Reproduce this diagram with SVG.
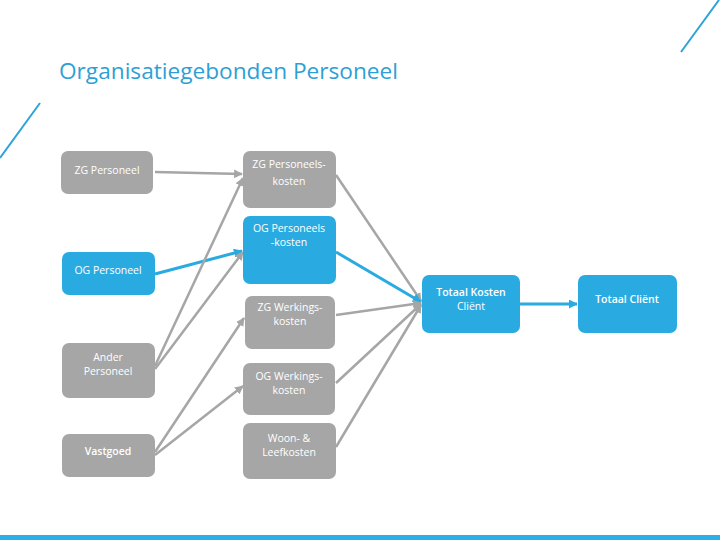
<svg xmlns="http://www.w3.org/2000/svg" width="720" height="540" viewBox="0 0 720 540">
<defs>
<style>
.g{fill:#a6a6a6}
.b{fill:#29abe2}
.t{font-family:"Open Sans","Liberation Sans",sans-serif;font-size:10.5px;fill:#ffffff;text-anchor:middle}
.tb{font-family:"Open Sans","Liberation Sans",sans-serif;font-size:10.5px;font-weight:600;fill:#ffffff;text-anchor:middle}
.lg{stroke:#a6a6a6;stroke-width:2.5;fill:none}
.lb{stroke:#29abe2;stroke-width:3;fill:none}
.deco{stroke:#2ea3d9;stroke-width:2;fill:none}
</style>
<marker id="ag" viewBox="0 0 10 10" refX="9" refY="5" markerWidth="3.5" markerHeight="3.5" orient="auto" markerUnits="strokeWidth"><path d="M0,0 L10,5 L0,10 z" fill="#a6a6a6"/></marker>
<marker id="ab" viewBox="0 0 10 10" refX="9" refY="5" markerWidth="3" markerHeight="3" orient="auto" markerUnits="strokeWidth"><path d="M0,0 L10,5 L0,10 z" fill="#29abe2"/></marker>
</defs>
<rect width="720" height="540" fill="#ffffff"/>
<line class="deco" x1="40" y1="103" x2="0" y2="158"/>
<line class="deco" x1="681" y1="52" x2="719" y2="0"/>
<rect x="0" y="535" width="720" height="5" fill="#2eaee8"/>
<text x="59" y="79" font-family="Open Sans, Liberation Sans, sans-serif" font-size="21.5" fill="#2e9fd6" textLength="339" lengthAdjust="spacingAndGlyphs">Organisatiegebonden Personeel</text>

<g id="connectors">
<path class="lg" d="M155,172 L242,174" marker-end="url(#ag)"/>
<path class="lb" d="M155,274 L242,251" marker-end="url(#ab)"/>
<path class="lg" d="M155,366 L243,178" marker-end="url(#ag)"/>
<path class="lg" d="M155,369 L243,252" marker-end="url(#ag)"/>
<path class="lg" d="M155,452 L244,318" marker-end="url(#ag)"/>
<path class="lg" d="M155,455 L243,386" marker-end="url(#ag)"/>
<path class="lg" d="M336,175 L421,301" marker-end="url(#ag)"/>
<path class="lb" d="M336,252 L421,302" marker-end="url(#ab)"/>
<path class="lg" d="M336,315 L421,303" marker-end="url(#ag)"/>
<path class="lg" d="M336,383 L421,304" marker-end="url(#ag)"/>
<path class="lg" d="M336,447 L421,305" marker-end="url(#ag)"/>
<path class="lb" d="M520,304 L577,304" marker-end="url(#ab)"/>
</g>

<g id="zg-personeel">
<rect class="g" x="61" y="151" width="92" height="43" rx="7"/>
<text class="t" x="107" y="174">ZG Personeel</text>
</g>
<g id="og-personeel">
<rect class="b" x="62" y="252" width="93" height="43" rx="7"/>
<text class="t" x="108" y="274">OG Personeel</text>
</g>
<g id="ander-personeel">
<rect class="g" x="62" y="343" width="93" height="55" rx="7"/>
<text class="t" x="108" y="361">Ander</text>
<text class="t" x="108" y="375">Personeel</text>
</g>
<g id="vastgoed">
<rect class="g" x="62" y="434" width="93" height="43" rx="7"/>
<text class="tb" x="108" y="455">Vastgoed</text>
</g>
<g id="zg-personeelskosten">
<rect class="g" x="243" y="151" width="93" height="57" rx="7"/>
<text class="t" x="289" y="168">ZG Personeels-</text>
<text class="t" x="289" y="185">kosten</text>
</g>
<g id="og-personeelskosten">
<rect class="b" x="243" y="216" width="93" height="68" rx="7"/>
<text class="t" x="289" y="232">OG Personeels</text>
<text class="t" x="289" y="246">-kosten</text>
</g>
<g id="zg-werkingskosten">
<rect class="g" x="245" y="296" width="90" height="53" rx="7"/>
<text class="t" x="290" y="311">ZG Werkings-</text>
<text class="t" x="290" y="325">kosten</text>
</g>
<g id="og-werkingskosten">
<rect class="g" x="243" y="363" width="92" height="52" rx="7"/>
<text class="t" x="289" y="380">OG Werkings-</text>
<text class="t" x="289" y="394">kosten</text>
</g>
<g id="woon-leefkosten">
<rect class="g" x="243" y="423" width="93" height="56" rx="7"/>
<text class="t" x="289" y="442">Woon- &amp;</text>
<text class="t" x="289" y="456">Leefkosten</text>
</g>
<g id="totaal-kosten-client">
<rect class="b" x="422" y="275" width="98" height="58" rx="7"/>
<text class="tb" x="471" y="296">Totaal Kosten</text>
<text class="t" x="471" y="310">Cliënt</text>
</g>
<g id="totaal-client">
<rect class="b" x="578" y="275" width="99" height="58" rx="7"/>
<text class="tb" x="627" y="303">Totaal Cliënt</text>
</g>
</svg>
